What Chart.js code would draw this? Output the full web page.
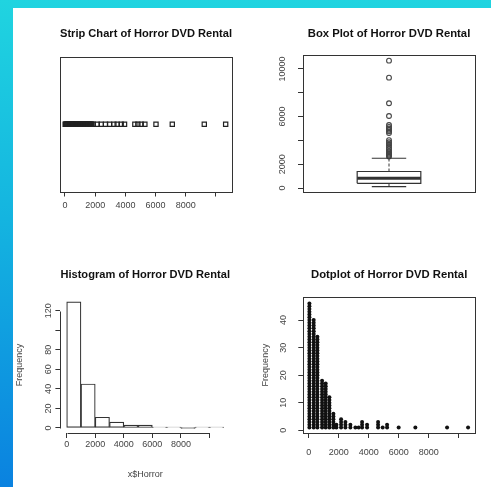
<!DOCTYPE html>
<html>
<head>
<meta charset="utf-8">
<script src="https://cdn.jsdelivr.net/npm/chart.js@4.4.1/dist/chart.umd.min.js"></script>
<style>
  html, body { margin: 0; padding: 0; }
  body {
    width: 491px; height: 487px; overflow: hidden; position: relative;
    background: linear-gradient(to bottom, #20d4e0 0%, #14b4e0 45%, #0a82e0 100%);
  }
  #panel { position: absolute; left: 13px; top: 8px; right: 0; bottom: 0; background: #fff; }
  canvas { position: absolute; }
</style>
</head>
<body>
<div id="panel"></div>
<canvas id="strip" style="left:13px;top:8px" width="232" height="240"></canvas>
<canvas id="box" style="left:245px;top:8px" width="246" height="240"></canvas>
<canvas id="hist" style="left:13px;top:248px" width="232" height="239"></canvas>
<canvas id="dot" style="left:245px;top:248px" width="246" height="239"></canvas>
<script>
// values
const xTicks = [0, 2000, 4000, 6000, 8000, 10000];
const xTickLabels = ['0', '2000', '4000', '6000', '8000', ''];

const stripValues = [12, 48, 85, 120, 148, 190, 224, 260, 301, 335, 372, 410, 446, 489, 520, 563,
  598, 640, 672, 715, 750, 796, 830, 874, 905, 948, 990, 1030, 1068, 1110, 1152, 1190, 1236,
  1270, 1315, 1352, 1398, 1440, 1478, 1520, 1566, 1604, 1650, 1690, 1735, 1770, 1868, 2133,
  2397, 2684, 2949, 3236, 3457, 3722, 3943, 4627, 4826, 5046, 5289, 6026, 7106, 9225, 10640];

// lower whisker, Q1, median, Q3, upper whisker
const boxStats = [110, 395, 815, 1386, 2500];
const boxOutliers = [2640, 2720, 2810, 2900, 3000, 3120, 3260, 3400, 3560, 3700, 3840, 4020,
  4620, 4760, 4880, 5000, 5130, 5290, 6050, 7120, 9270, 10700];
const boxTicks = [0, 2000, 4000, 6000, 8000, 10000];
const boxTickLabels = ['0', '2000', '', '6000', '', '10000'];

const histBreaks = [0, 1000, 2000, 3000, 4000, 5000, 6000, 7000, 8000, 9000, 10000, 11000];
const histCounts = [129, 45, 11, 6, 3, 3, 1, 1, 0, 1, 1];
const histYTicks = [0, 20, 40, 60, 80, 100, 120];
const histYTickLabels = ['0', '20', '40', '60', '80', '', '120'];

const dotCenters = [47, 333, 580, 893, 1133, 1380, 1647, 1847, 2160, 2447, 2780, 3113, 3333,
  3560, 3893, 4627, 4933, 5227, 6000, 7113, 9227, 10627];
const dotCounts = [46, 40, 34, 18, 17, 12, 6, 2, 4, 3, 2, 1, 1, 3, 2, 3, 1, 2, 1, 1, 1, 1];
const dotYTicks = [0, 10, 20, 30, 40];
const dotYTickLabels = ['0', '10', '20', '30', '40'];

Chart.defaults.font.family = '"Liberation Sans", Arial, sans-serif';
Chart.defaults.animation = false;
Chart.defaults.plugins.legend.display = false;
Chart.defaults.plugins.tooltip.enabled = false;

const INK = '#333';

// box around the plot region and R style axis lines (first to last tick)
const rFrame = {
  id: 'rFrame',
  afterDraw(chart, args, opts) {
    const { ctx, chartArea: a } = chart;
    ctx.save();
    ctx.strokeStyle = INK;
    ctx.lineWidth = 1;
    if (opts.box) {
      ctx.strokeRect(Math.round(a.left) + 0.5, Math.round(a.top) + 0.5,
        Math.round(a.right - a.left), Math.round(a.bottom - a.top));
    }
    if (opts.axes) {
      const sx = chart.scales.x, sy = chart.scales.y;
      const xt = sx.ticks, yt = sy.ticks;
      const by = Math.round(a.bottom) + 0.5, lx = Math.round(a.left) + 0.5;
      ctx.beginPath();
      ctx.moveTo(Math.round(sx.getPixelForValue(xt[0].value)) + 0.5, by);
      ctx.lineTo(Math.round(sx.getPixelForValue(xt[xt.length - 1].value)) + 0.5, by);
      ctx.moveTo(lx, Math.round(sy.getPixelForValue(yt[0].value)) + 0.5);
      ctx.lineTo(lx, Math.round(sy.getPixelForValue(yt[yt.length - 1].value)) + 0.5);
      ctx.stroke();
    }
    ctx.restore();
  }
};

function rAxis(min, max, values, labels, extra) {
  const ax = {
    type: 'linear',
    min: min,
    max: max,
    offset: false,
    afterBuildTicks: s => { s.ticks = values.map(v => ({ value: v })); },
    grid: { offset: false, drawOnChartArea: false, drawTicks: true, tickLength: 5, color: INK },
    border: { display: false },
    ticks: {
      color: '#444', font: { size: 9 }, autoSkip: false, maxRotation: 0,
      callback: (v, i) => labels[i]
    }
  };
  Object.assign(ax.ticks, extra.ticks || {});
  delete extra.ticks;
  return Object.assign(ax, extra);
}

function title(text, top, bottom) {
  return {
    display: true, text: text, fullSize: false, color: '#111',
    font: { size: 11.3, weight: 'bold' }, padding: { top: top, bottom: bottom }
  };
}

function line(points, width, dash) {
  return {
    data: points, showLine: true, pointRadius: 0, borderColor: INK,
    borderWidth: width, borderDash: dash || [], fill: false
  };
}

// strip chart
new Chart(document.getElementById('strip'), {
  type: 'scatter',
  data: {
    datasets: [{
      data: stripValues.map(v => ({ x: v, y: 1 })),
      pointStyle: 'rect', pointRadius: 3, borderWidth: 1.2,
      borderColor: '#222', backgroundColor: 'rgba(255,255,255,0)'
    }]
  },
  options: {
    responsive: false,
    layout: { padding: { left: 47, right: 13, top: 0, bottom: 0 } },
    plugins: { title: title('Strip Chart of Horror DVD Rental', 19.2, 16.2), rFrame: { box: true } },
    scales: {
      x: rAxis(-331, 11060, xTicks, xTickLabels, {
        ticks: { padding: 4 }, afterFit: s => { s.height = 56.5; }
      }),
      y: { display: false, min: 0, max: 2 }
    }
  },
  plugins: [rFrame]
});

// box plot
const [lo, q1, med, q3, hi] = boxStats;
const bw = 0.185, cw = 0.1;
new Chart(document.getElementById('box'), {
  type: 'scatter',
  data: {
    datasets: [
      line([{ x: 1 - bw, y: q1 }, { x: 1 + bw, y: q1 }, { x: 1 + bw, y: q3 }, { x: 1 - bw, y: q3 }, { x: 1 - bw, y: q1 }], 1.2),
      line([{ x: 1 - bw, y: med }, { x: 1 + bw, y: med }], 3),
      line([{ x: 1, y: q3 }, { x: 1, y: hi }], 1, [3, 2]),
      line([{ x: 1, y: lo }, { x: 1, y: q1 }], 1, [3, 2]),
      line([{ x: 1 - cw, y: hi }, { x: 1 + cw, y: hi }], 1.2),
      line([{ x: 1 - cw, y: lo }, { x: 1 + cw, y: lo }], 1.2),
      {
        data: boxOutliers.map(v => ({ x: 1, y: v })),
        pointStyle: 'circle', pointRadius: 2.4, borderWidth: 1.1,
        borderColor: '#444', backgroundColor: 'rgba(255,255,255,0)'
      }
    ]
  },
  options: {
    responsive: false,
    layout: { padding: { left: 0, right: 16, top: 0, bottom: 56 } },
    plugins: { title: title('Box Plot of Horror DVD Rental', 19.2, 14.2), rFrame: { box: true } },
    scales: {
      x: { display: false, min: 0.5, max: 1.5 },
      y: rAxis(-336, 11176, boxTicks, boxTickLabels, {
        ticks: { minRotation: 90, maxRotation: 90, crossAlign: 'center', padding: 2.5 },
        afterFit: s => { s.width = 58; }
      })
    }
  },
  plugins: [rFrame]
});

// histogram
new Chart(document.getElementById('hist'), {
  type: 'bar',
  data: {
    datasets: [{
      data: histCounts.map((c, i) => ({ x: (histBreaks[i] + histBreaks[i + 1]) / 2, y: c })),
      backgroundColor: '#fff', borderColor: INK, borderWidth: 1.2, borderSkipped: false,
      barPercentage: 1, categoryPercentage: 1, minBarLength: 1
    }]
  },
  options: {
    responsive: false,
    layout: { padding: { left: 0, right: 15, top: 0, bottom: 0 } },
    plugins: { title: title('Histogram of Horror DVD Rental', 20.2, 15.1), rFrame: { axes: true } },
    scales: {
      x: rAxis(-440, 11440, xTicks, xTickLabels, {
        ticks: { padding: 1.5 },
        title: { display: true, text: 'x$Horror', color: '#444', font: { size: 9 }, padding: { top: 0, bottom: 6.6 } },
        afterFit: s => { s.height = 54; }
      }),
      y: rAxis(-5.16, 134.16, histYTicks, histYTickLabels, {
        ticks: { minRotation: 90, maxRotation: 90, crossAlign: 'center', padding: -0.6 },
        title: { display: true, text: 'Frequency', color: '#444', font: { size: 9 }, padding: { top: 1.6, bottom: 0 } },
        afterFit: s => { s.width = 47.4; }
      })
    }
  },
  plugins: [rFrame]
});

// dotplot: one dot per observation, stacked in each bin
const dotPoints = [];
dotCenters.forEach((c, i) => {
  for (let k = 1; k <= dotCounts[i]; k++) dotPoints.push({ x: c, y: k });
});
new Chart(document.getElementById('dot'), {
  type: 'scatter',
  data: {
    datasets: [{
      data: dotPoints, pointStyle: 'circle', pointRadius: 2,
      borderWidth: 0, backgroundColor: '#111'
    }]
  },
  options: {
    responsive: false,
    layout: { padding: { left: 0, right: 16, top: 0, bottom: 0 } },
    plugins: { title: title('Dotplot of Horror DVD Rental', 20.2, 15.5), rFrame: { box: true } },
    scales: {
      x: rAxis(-360, 11090, xTicks, xTickLabels, {
        ticks: { padding: 9.6 }, afterFit: s => { s.height = 54; }
      }),
      y: rAxis(-1.0, 48.3, dotYTicks, dotYTickLabels, {
        ticks: { minRotation: 90, maxRotation: 90, crossAlign: 'center', padding: 10 },
        title: { display: true, text: 'Frequency', color: '#444', font: { size: 9 }, padding: { top: 15.6, bottom: 0 } },
        afterFit: s => { s.width = 58.3; }
      })
    }
  },
  plugins: [rFrame]
});
</script>
</body>
</html>
